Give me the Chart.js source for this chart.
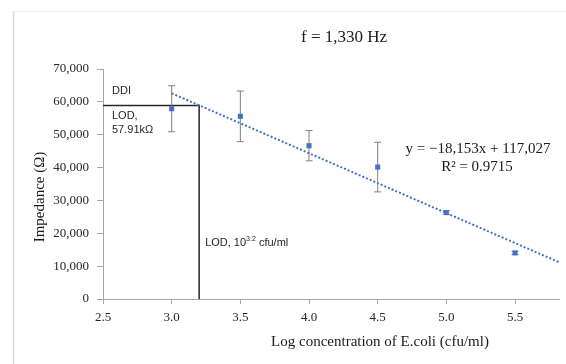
<!DOCTYPE html>
<html lang="en">

<head>
  <meta charset="UTF-8" />
  <title>Impedance vs log concentration of E.coli</title>
  <script src="https://cdn.jsdelivr.net/npm/chart.js@4.4.1/dist/chart.umd.min.js"></script>
  <style>
    body { margin: 0; background: #fff; }
    #wrap { width: 566px; height: 364px; }
  </style>
</head>

<body>
  <div id="wrap"><canvas id="impChart" width="566" height="364"></canvas></div>

  <script>
    // values
    const logConc = [3.0, 3.5, 4.0, 4.5, 5.0, 5.5];
    const impedance = [57910, 55600, 46650, 40150, 26300, 14020];
    const errBar = [7000, 7700, 4600, 7550, 600, 500];
    const trendX = [3.0, 5.82];
    const trendY = [62600, 11200];
    const lodX = [2.5, 3.2, 3.2];
    const lodY = [58900, 58900, 0];
    const xTicks = [2.5, 3.0, 3.5, 4.0, 4.5, 5.0, 5.5];
    const yTicks = [0, 10000, 20000, 30000, 40000, 50000, 60000, 70000];

    const serif = "'Liberation Serif', 'Times New Roman', serif";
    const sans = "'Liberation Sans', Arial, sans-serif";
    const axisGray = "#a6a6a6";

    const pts = logConc.map((x, i) => ({ x: x, y: impedance[i] }));
    const errPts = [];
    logConc.forEach((x, i) => {
      errPts.push({ x: x, y: impedance[i] - errBar[i] });
      errPts.push({ x: x, y: impedance[i] + errBar[i] });
      errPts.push({ x: x, y: null });
    });
    const trendPts = trendX.map((x, i) => ({ x: x, y: trendY[i] }));
    const lodPts = lodX.map((x, i) => ({ x: x, y: lodY[i] }));

    // text, frame and the small superscript are drawn here
    const labels = {
      id: "labels",
      beforeDraw(chart) {
        const ctx = chart.ctx;
        ctx.save();
        ctx.fillStyle = "#fff";
        ctx.fillRect(0, 0, chart.width, chart.height);
        ctx.strokeStyle = "#d9d9d9";
        ctx.lineWidth = 1.5;
        ctx.beginPath();
        ctx.moveTo(13.5, chart.height);
        ctx.lineTo(13.5, 11.5);
        ctx.stroke();
        ctx.strokeStyle = "#ececec";
        ctx.lineWidth = 1;
        ctx.beginPath();
        ctx.moveTo(13.5, 11.5);
        ctx.lineTo(chart.width, 11.5);
        ctx.stroke();
        ctx.restore();
      },
      afterDraw(chart) {
        const ctx = chart.ctx;
        const xs = chart.scales.x, ys = chart.scales.y;
        ctx.save();
        ctx.fillStyle = "#1a1a1a";
        ctx.textBaseline = "middle";

        ctx.textAlign = "center";
        ctx.font = "17px " + serif;
        ctx.fillText("f = 1,330 Hz", 344, 38);

        ctx.font = "15px " + serif;
        ctx.fillText("y = \u221218,153x + 117,027", 478, 149);
        ctx.fillText("R\u00b2 = 0.9715", 477, 167);
        ctx.fillText("Log concentration of E.coli (cfu/ml)", 380, 342);

        ctx.save();
        ctx.translate(40, 197);
        ctx.rotate(-Math.PI / 2);
        ctx.fillText("Impedance (\u03a9)", 0, 0);
        ctx.restore();

        ctx.textAlign = "left";
        ctx.fillStyle = "#262626";
        ctx.font = "11px " + sans;
        ctx.fillText("DDI", 112, 91);
        ctx.fillText("LOD,", 112, 116);
        ctx.fillText("57.91k\u03a9", 112, 130);

        let x0 = xs.getPixelForValue(3.2) + 6;
        const yl = ys.getPixelForValue(17000);
        ctx.fillText("LOD, 10", x0, yl);
        x0 += ctx.measureText("LOD, 10").width;
        ctx.font = "7px " + sans;
        ctx.fillText("3.2", x0, yl - 4);
        x0 += ctx.measureText("3.2").width;
        ctx.font = "11px " + sans;
        ctx.fillText(" cfu/ml", x0, yl);
        ctx.restore();
      }
    };

    new Chart(document.getElementById("impChart").getContext("2d"), {
      type: "scatter",
      data: {
        datasets: [
          {
            label: "Impedance",
            data: pts,
            pointStyle: "rect",
            pointRadius: 3.6,
            backgroundColor: "#4472c4",
            borderColor: "#4472c4",
            borderWidth: 0,
            order: 0
          },
          {
            label: "error",
            data: errPts,
            showLine: true,
            spanGaps: false,
            borderColor: "#7f7f7f",
            borderWidth: 1,
            pointStyle: "line",
            pointRadius: 3.5,
            pointBorderColor: "#7f7f7f",
            pointBorderWidth: 1,
            order: 1
          },
          {
            label: "trend",
            data: trendPts,
            showLine: true,
            borderColor: "#4472c4",
            borderWidth: 2,
            borderDash: [2, 2],
            pointRadius: 0,
            order: 2
          },
          {
            label: "LOD",
            data: lodPts,
            showLine: true,
            borderColor: "#262626",
            borderWidth: 1.5,
            pointRadius: 0,
            order: 3
          }
        ]
      },
      options: {
        responsive: false,
        animation: false,
        layout: { padding: { left: 0, top: 69, right: 7, bottom: 0 } },
        plugins: {
          legend: { display: false },
          tooltip: { enabled: false }
        },
        scales: {
          x: {
            type: "linear",
            min: 2.5,
            max: 5.82,
            afterBuildTicks: (s) => { s.ticks = xTicks.map(v => ({ value: v })); },
            afterFit: (s) => { s.height = 65; },
            ticks: {
              autoSkip: false,
              maxRotation: 0,
              padding: 6,
              color: "#262626",
              font: { family: serif, size: 13 },
              callback: (v) => Number(v).toFixed(1)
            },
            grid: { drawOnChartArea: false, tickLength: 5, color: axisGray },
            border: { color: axisGray, width: 1 }
          },
          y: {
            min: 0,
            max: 70000,
            afterBuildTicks: (s) => { s.ticks = yTicks.map(v => ({ value: v })); },
            afterFit: (s) => { s.width = 103; },
            ticks: {
              padding: 8,
              color: "#262626",
              font: { family: serif, size: 13 },
              callback: (v) => Number(v).toLocaleString("en-US")
            },
            grid: { drawOnChartArea: false, tickLength: 6, color: axisGray },
            border: { color: axisGray, width: 1 }
          }
        }
      },
      plugins: [labels]
    });
  </script>
</body>

</html>
